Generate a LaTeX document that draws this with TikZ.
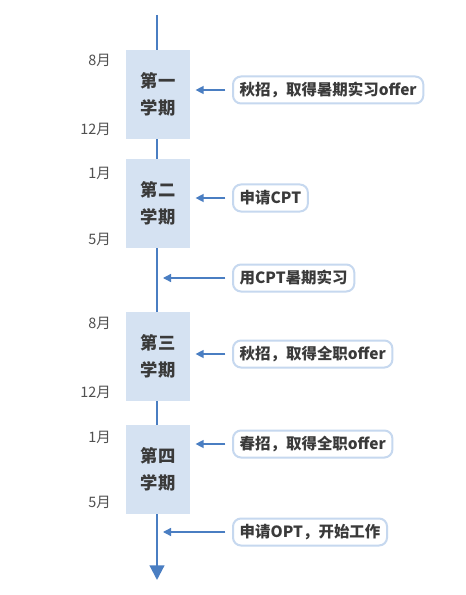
\documentclass[tikz,border=0pt]{standalone}
\usepackage{fontspec}
\setmainfont{Noto Sans CJK SC}
\usetikzlibrary{arrows.meta}
\definecolor{lineblue}{HTML}{4A7EC2}
\definecolor{boxfill}{HTML}{D5E2F2}
\definecolor{calloutborder}{HTML}{C6D8EF}
\definecolor{txt}{HTML}{3A3A3A}
\definecolor{mtxt}{HTML}{505050}
\tikzset{
  term/.style={fill=boxfill, draw=none, minimum width=64*0.75pt, minimum height=89*0.75pt,
    align=center, font=\fontsize{13}{20}\selectfont\bfseries, text=txt, inner sep=0pt},
  callout/.style={draw=calloutborder, line width=1.5pt, fill=white, rounded corners=6pt,
    anchor=west, minimum height=27*0.75pt, inner xsep=5pt, inner ysep=0pt,
    font=\fontsize{11.6}{13}\selectfont\bfseries, text=txt},
  month/.style={anchor=east, font=\fontsize{10.8}{12}\selectfont, text=mtxt, inner sep=0pt},
  pointer/.style={draw=lineblue, line width=1pt, -{Triangle[length=6pt,width=6pt]}},
  axis/.style={draw=lineblue, line width=1.6pt, -{Triangle[length=11pt,width=11pt]}}
}
\begin{document}
\begin{tikzpicture}[x=0.75pt,y=-0.75pt]
\useasboundingbox[fill=white] (0,0) rectangle (465,595);
\coordinate (top) at (157,15);
\coordinate (bottom) at (157,580);
\draw[axis] (top) -- (bottom);
% terms
\node[term] (t1) at (158,94.5) {第一\\学期};
\node[term] (t2) at (158,203.5) {第二\\学期};
\node[term] (t3) at (158,356.5) {第三\\学期};
\node[term] (t4) at (158,469.5) {第四\\学期};
% months
\node[month] (m1) at (111,60) {8月};
\node[month] (m2) at (111,129) {12月};
\node[month] (m3) at (111,173) {1月};
\node[month] (m4) at (111,239) {5月};
\node[month] (m5) at (111,323) {8月};
\node[month] (m6) at (111,392) {12月};
\node[month] (m7) at (111,437) {1月};
\node[month] (m8) at (111,502) {5月};
% callouts
\node[callout] (c1) at (232,90) {秋招，取得暑期实习offer};
\node[callout] (c2) at (232,198) {申请CPT};
\node[callout] (c3) at (232,278) {用CPT暑期实习};
\node[callout] (c4) at (232,354) {秋招，取得全职offer};
\node[callout] (c5) at (232,444) {春招，取得全职offer};
\node[callout] (c6) at (232,532) {申请OPT，开始工作};
% pointer coordinates on axis
\coordinate (a3) at (163,278);
\coordinate (a6) at (163,532);
\draw[pointer] ([xshift=-5pt]c1.west) -- ([xshift=4pt]t1.east |- c1.west);
\draw[pointer] ([xshift=-5pt]c2.west) -- ([xshift=4pt]t2.east |- c2.west);
\draw[pointer] ([xshift=-5pt]c3.west) -- (a3);
\draw[pointer] ([xshift=-5pt]c4.west) -- ([xshift=4pt]t3.east |- c4.west);
\draw[pointer] ([xshift=-5pt]c5.west) -- ([xshift=4pt]t4.east |- c5.west);
\draw[pointer] ([xshift=-5pt]c6.west) -- (a6);
\end{tikzpicture}
\end{document}
